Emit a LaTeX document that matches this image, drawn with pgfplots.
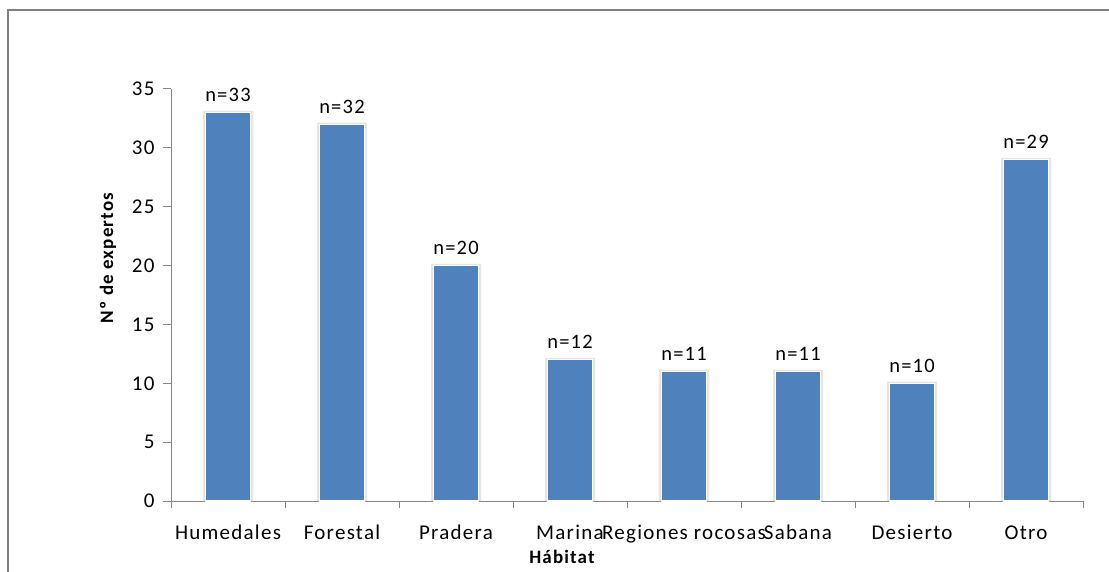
\documentclass[border=0pt]{standalone}
\usepackage{pgfplots}
\pgfplotsset{compat=1.18}
\usepackage{fontspec}
\setmainfont{Carlito}[LetterSpace=6]
\definecolor{barblue}{HTML}{4F81BD}
\definecolor{axgray}{HTML}{868686}
\definecolor{framegray}{HTML}{7F7F7F}
\begin{document}
\begin{tikzpicture}[x=1pt,y=1pt]
\path[use as bounding box] (0,0) rectangle (1109,571);
\draw[framegray, line width=2.2pt] (8,-2) -- (8,561) -- (1111,561);
\begin{axis}[
  at={(171pt,70pt)}, anchor=south west,
  scale only axis, width=912pt, height=412pt,
  xmin=-0.5, xmax=7.5, ymin=0, ymax=35,
  axis x line=bottom, axis y line=left,
  axis line style={axgray, line width=1pt, -},
  tick align=outside,
  ytick={0,5,...,35},
  xtick={0,...,7},
  xticklabels={Humedales,Forestal,Pradera,Marina,Regiones rocosas,Sabana,Desierto,Otro},
  minor xtick={-0.5,0.5,...,7.5},
  major x tick style={draw=none},
  minor x tick style={axgray, line width=1pt},
  minor tick length=7pt,
  major tick length=8pt,
  y tick style={axgray, line width=1pt},
  tick label style={font=\fontsize{21}{21}\selectfont},
  /pgf/number format/assume math mode=true,
  yticklabel style={xshift=-5pt},
  xticklabel style={yshift=-13pt, text height=14pt, text depth=4pt},
  ybar, bar shift=0pt,
  nodes near coords style={font=\fontsize{20.5}{20.5}\selectfont, black},
  clip=false,
]
\addplot[fill=black!10, draw=none, bar width=50pt] coordinates {(0,33.15) (1,32.15) (2,20.15) (3,12.15) (4,11.15) (5,11.15) (6,10.15) (7,29.15)};
\addplot[fill=barblue, draw=white, line width=1.2pt, bar width=45pt,
  nodes near coords={n=\pgfmathprintnumber{\pgfplotspointmeta}},
  every node near coord/.append style={anchor=south, yshift=7pt}]
  coordinates {(0,33) (1,32) (2,20) (3,12) (4,11) (5,11) (6,10) (7,29)};
\end{axis}
\node[font=\bfseries\fontsize{19}{19}\selectfont] at (562,14) {Hábitat};
\node[font=\bfseries\fontsize{19}{19}\selectfont, rotate=90] at (108,313) {Nº de expertos};
\end{tikzpicture}
\end{document}
